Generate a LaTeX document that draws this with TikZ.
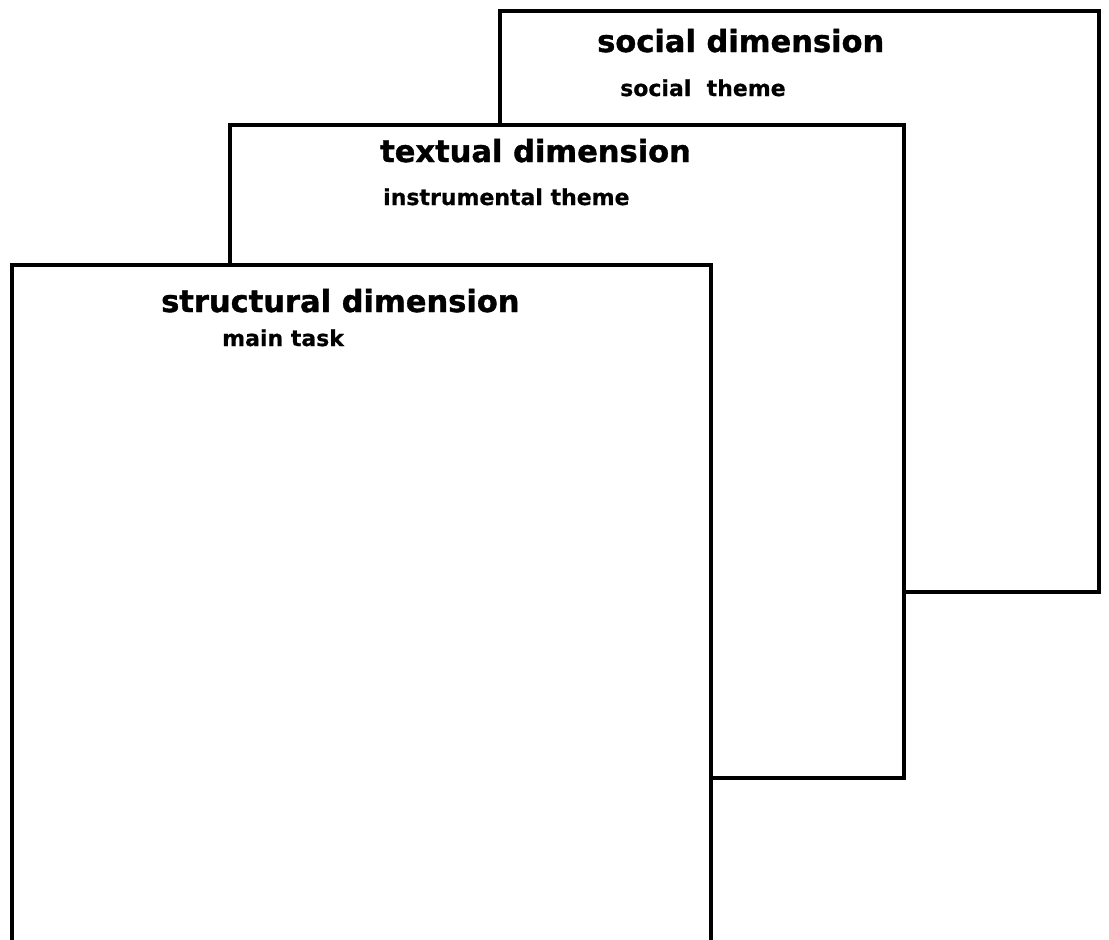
\documentclass[tikz,border=0pt]{standalone}
\usepackage{fontspec}
\setmainfont{DejaVu Sans}
\newfontfamily\titlefont[FakeBold=1.2]{DejaVu Sans Bold}
\newfontfamily\subfont[FakeBold=0.6]{DejaVu Sans Bold}
\begin{document}
\begin{tikzpicture}[x=1pt,y=-1pt,
  sheet/.style={draw=black,fill=white,line width=3.5pt,line join=miter},
  titletext/.style={anchor=base west,inner sep=0pt,font=\titlefont\fontsize{30.5}{34}\selectfont},
  subtext/.style={anchor=base west,inner sep=0pt,font=\subfont\fontsize{22}{26}\selectfont}]
\useasboundingbox[fill=white] (0,0) rectangle (1109,940);
\begin{scope}
\clip (0,0) rectangle (1109,940);
% back sheet
\draw[sheet] (500,11) rectangle (1099,592);
\node[titletext] (soc) at (597,52) {social dimension};
\node[subtext] (soct) at (620,96) {social\ \ theme};
% middle sheet
\draw[sheet] (230,125) rectangle (904,778);
\node[titletext] (tex) at (380,162) {textual dimension};
\node[subtext] (text) at (383,205) {instrumental theme};
% front sheet
\draw[sheet] (12,265) rectangle (711,980);
\node[titletext] (str) at (161,312) {structural dimension};
\node[subtext] (strt) at (222,346) {main task};
\end{scope}
\end{tikzpicture}
\end{document}
